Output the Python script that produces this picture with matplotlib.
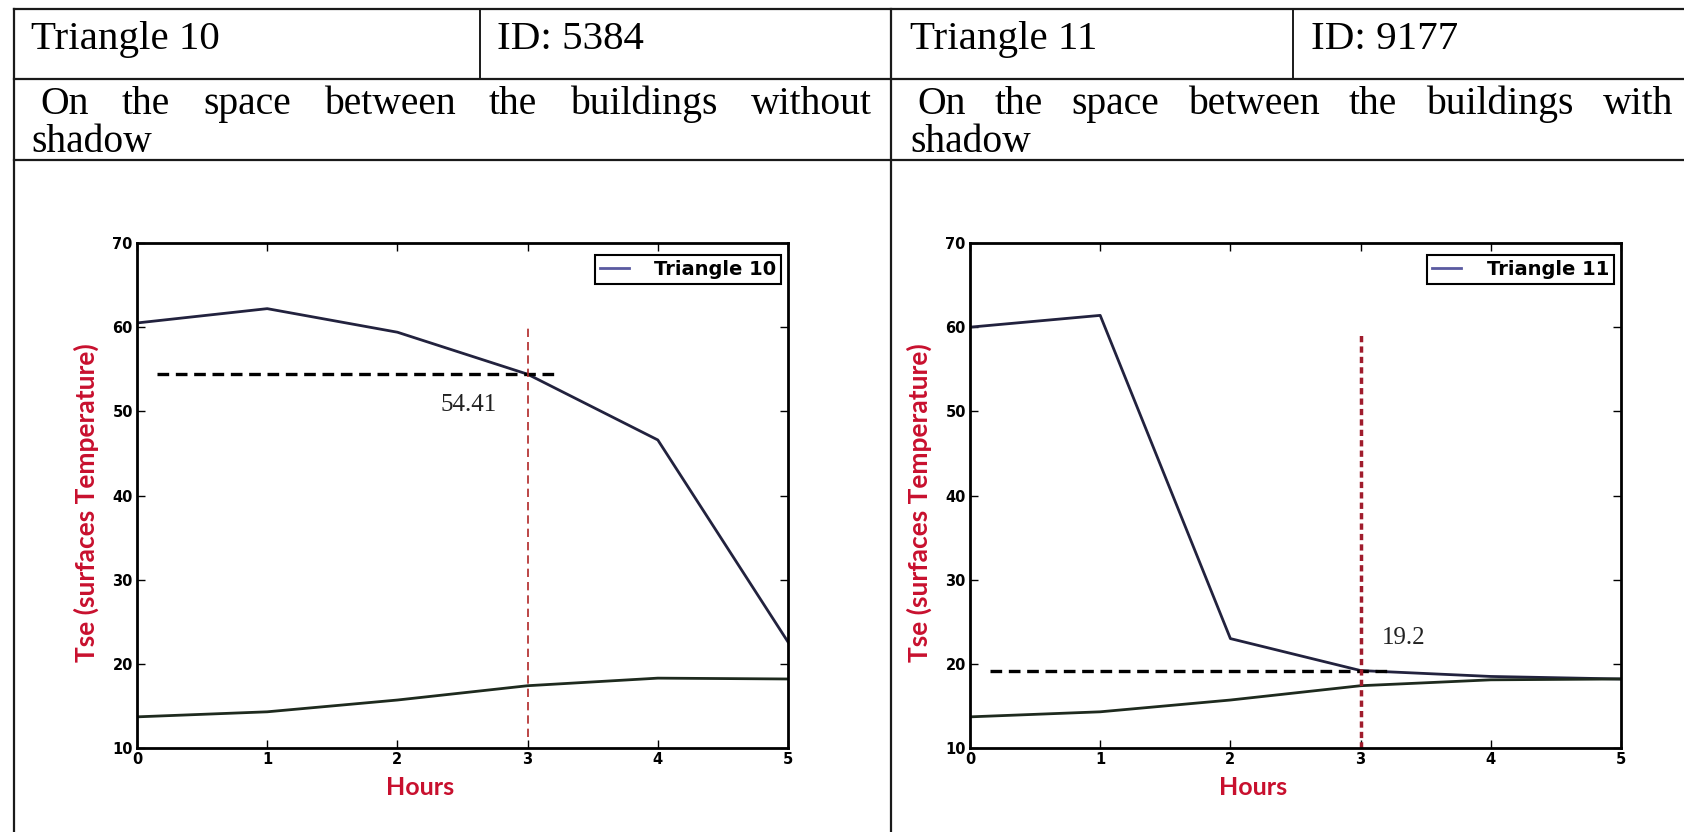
import matplotlib
matplotlib.use("Agg")
import matplotlib.pyplot as plt

# table texts
header_left = ["Triangle 10", "ID: 5384"]
header_right = ["Triangle 11", "ID: 9177"]
desc_left = "On the space between the buildings without"
desc_right = "On the space between the buildings with"
desc_tail = "shadow"

# chart data
hours = [0, 1, 2, 3, 4, 5]
tri10_tse = [60.5, 62.2, 59.4, 54.41, 46.6, 22.6]
tri10_low = [13.7, 14.3, 15.7, 17.4, 18.3, 18.2]
tri11_tse = [60.0, 61.4, 23.0, 19.2, 18.5, 18.2]
tri11_low = [13.7, 14.3, 15.7, 17.4, 18.1, 18.2]
mark_hour = 3
mark10 = 54.41
mark11 = 19.2
yticks = [10, 20, 30, 40, 50, 60, 70]

W, H = 1684, 832
fig = plt.figure(figsize=(W / 100, H / 100), dpi=100)

# overlay in pixel coords for the table
tab = fig.add_axes([0, 0, 1, 1])
tab.set_xlim(0, W)
tab.set_ylim(H, 0)
tab.axis("off")

lc = "#1a1a1a"
y_top, y_r1, y_r2 = 9, 79, 160
x_left, x_mid = 14, 891
for y in (y_top, y_r1, y_r2):
    tab.plot([x_left, W], [y, y], color=lc, lw=1.6)
tab.plot([x_left, x_left], [y_top, H], color=lc, lw=1.6)
tab.plot([x_mid, x_mid], [y_top, H], color=lc, lw=1.6)
tab.plot([480, 480], [y_top, y_r1], color=lc, lw=1.4)
tab.plot([1293, 1293], [y_top, y_r1], color=lc, lw=1.4)

serif = "Liberation Serif"
fs = 29.5
fs2 = 28.5
tab.text(31, 49, header_left[0], fontsize=fs, family=serif, va="baseline")
tab.text(497, 49, header_left[1], fontsize=fs, family=serif, va="baseline")
tab.text(910, 49, header_right[0], fontsize=fs, family=serif, va="baseline")
tab.text(1311, 49, header_right[1], fontsize=fs, family=serif, va="baseline")

renderer = fig.canvas.get_renderer()


def justify(line, x0, x1, y):
    words = line.split()
    arts = [tab.text(0, y, w, fontsize=fs2, family=serif, va="baseline") for w in words]
    widths = [a.get_window_extent(renderer).width for a in arts]
    gap = (x1 - x0 - sum(widths)) / (len(words) - 1)
    x = x0
    for a, w in zip(arts, widths):
        a.set_x(x)
        x += w + gap


justify(desc_left, 40, 872, 114)
justify(desc_right, 917, 1673, 114)
tab.text(31, 152, desc_tail, fontsize=fs2, family=serif, va="baseline")
tab.text(910, 152, desc_tail, fontsize=fs2, family=serif, va="baseline")

red = "#c8102e"
line_c = "#22223e"
low_c = "#1e2a1e"


def panel(left, tse, low, name, mark, vline_kw, txt_xy):
    ax = fig.add_axes([left / W, 1 - 748 / H, 651 / W, 505 / H])
    ax.plot(hours, tse, color=line_c, lw=2, label=name)
    ax.plot(hours, low, color=low_c, lw=2)
    ax.plot([0.15, 3.25], [mark, mark], color="black", lw=2.4, dashes=(3.5, 2))
    ax.plot([mark_hour, mark_hour], vline_kw["span"], color=vline_kw["color"],
            lw=vline_kw["lw"], dashes=vline_kw["dashes"])
    ax.text(txt_xy[0], txt_xy[1], f"{mark}", family=serif, fontsize=18,
            color="#222222", ha="center", va="center")
    ax.set_xlim(0, 5)
    ax.set_ylim(10, 70)
    ax.set_xticks(hours)
    ax.set_yticks(yticks)
    ax.tick_params(direction="in", top=True, right=True, length=6, width=1,
                   labelsize=10.5, pad=3)
    for lab in ax.get_xticklabels() + ax.get_yticklabels():
        lab.set_fontweight("bold")
    for s in ax.spines.values():
        s.set_linewidth(2)
    ax.set_xlabel("Hours", family="Lato", fontweight="bold", fontsize=18, color=red)
    ax.set_ylabel("Tse (surfaces Temperature)", family="Lato", fontweight="bold",
                  fontsize=19, color=red)
    ax.xaxis.set_label_coords(0.435, -0.055)
    ax.yaxis.set_label_coords(-0.058, 0.485)
    leg = ax.legend(loc="upper right", bbox_to_anchor=(1 - 7 / 651, 1 - 12 / 505),
                    fontsize=14, handlelength=1.5, handletextpad=1.3,
                    borderpad=0.25, borderaxespad=0, fancybox=False, framealpha=1)
    leg.get_frame().set_edgecolor("black")
    leg.get_frame().set_linewidth(1.5)
    for t in leg.get_texts():
        t.set_fontweight("bold")
    leg.get_lines()[0].set_color("#5a5aa0")
    return ax


panel(137, tri10_tse, tri10_low, "Triangle 10", mark10,
      {"span": [11.3, 60], "color": "#b02828", "lw": 1.2, "dashes": (5, 3)},
      (2.55, 50.7))
panel(970, tri11_tse, tri11_low, "Triangle 11", mark11,
      {"span": [10, 59.2], "color": "#a01c2c", "lw": 2.5, "dashes": (1.8, 1.2)},
      (3.33, 23.1))

fig.savefig("out.png", dpi=100)
